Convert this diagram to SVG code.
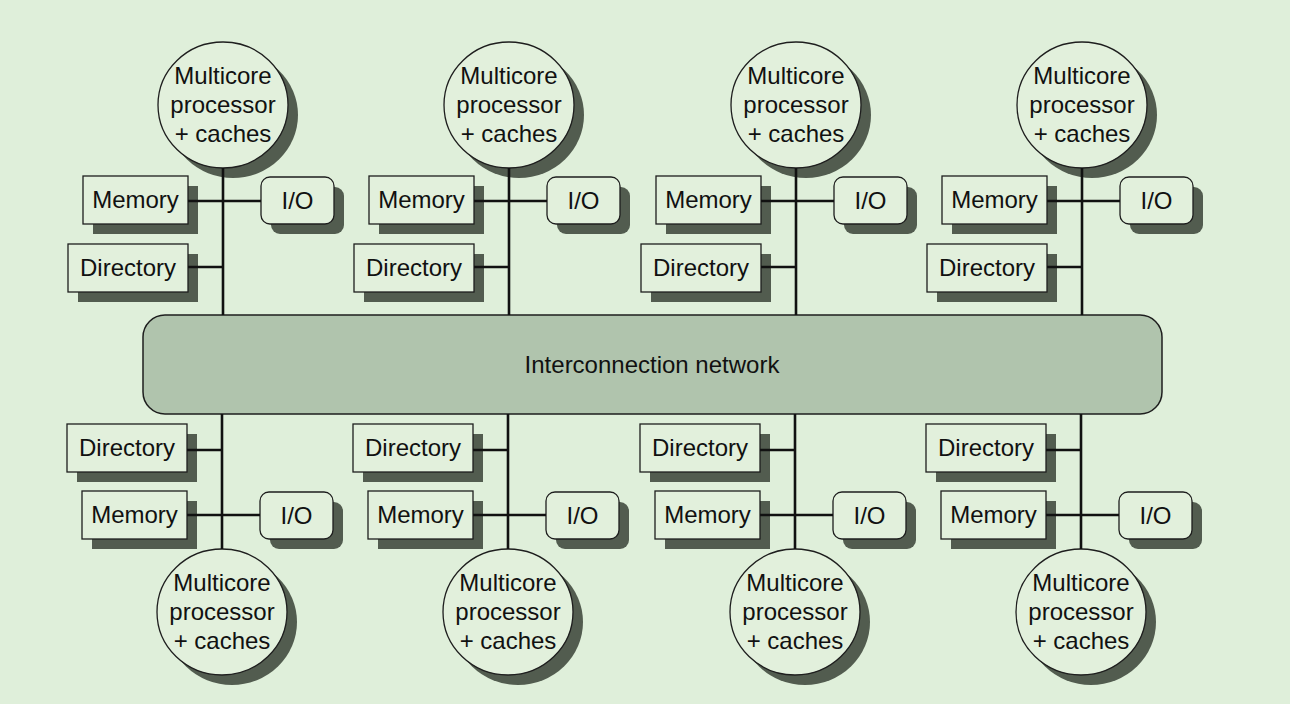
<svg xmlns="http://www.w3.org/2000/svg" width="1290" height="704" viewBox="0 0 1290 704">
<defs>
<style>
.bg{fill:#dfefda}
.box{fill:#e2f0dc;stroke:#1e1e1e;stroke-width:1.3}
.sh{fill:#525c4f}
.net{fill:#b0c4ad;stroke:#1e1e1e;stroke-width:1.5}
.ln{stroke:#111;stroke-width:2.6;fill:none}
text{font-family:"Liberation Sans",Arial,sans-serif;font-size:24px;fill:#111;text-anchor:middle}
</style>
<g id="proc"><ellipse class="sh" cx="10" cy="10" rx="65" ry="63"/><ellipse class="box" cx="0" cy="0" rx="65" ry="63"/></g>
<g id="mem"><rect class="sh" x="10" y="10" width="105" height="48"/><rect class="box" x="0" y="0" width="105" height="48"/></g>
<g id="dir"><rect class="sh" x="10" y="10" width="120" height="48"/><rect class="box" x="0" y="0" width="120" height="48"/></g>
<g id="io"><rect class="sh" x="10" y="10" width="73" height="47" rx="9"/><rect class="box" x="0" y="0" width="73" height="47" rx="9"/></g>
</defs>
<rect class="bg" x="0" y="0" width="1290" height="704"/>

<g id="network"><rect class="net" x="143" y="315" width="1019" height="99" rx="22"/><text x="652" y="373">Interconnection network</text></g>

<!-- top row -->
<g id="proc-t1"><use href="#proc" x="223" y="105"/><text x="223" y="84">Multicore</text><text x="223" y="113">processor</text><text x="223" y="142">+ caches</text></g>
<g id="mem-t1"><use href="#mem" x="83" y="176"/><text x="135.5" y="208">Memory</text></g>
<g id="dir-t1"><use href="#dir" x="68" y="244"/><text x="128" y="276">Directory</text></g>
<g id="io-t1"><use href="#io" x="261" y="177"/><text x="297.5" y="209">I/O</text></g>

<g id="proc-t2"><use href="#proc" x="509" y="105"/><text x="509" y="84">Multicore</text><text x="509" y="113">processor</text><text x="509" y="142">+ caches</text></g>
<g id="mem-t2"><use href="#mem" x="369" y="176"/><text x="421.5" y="208">Memory</text></g>
<g id="dir-t2"><use href="#dir" x="354" y="244"/><text x="414" y="276">Directory</text></g>
<g id="io-t2"><use href="#io" x="547" y="177"/><text x="583.5" y="209">I/O</text></g>

<g id="proc-t3"><use href="#proc" x="796" y="105"/><text x="796" y="84">Multicore</text><text x="796" y="113">processor</text><text x="796" y="142">+ caches</text></g>
<g id="mem-t3"><use href="#mem" x="656" y="176"/><text x="708.5" y="208">Memory</text></g>
<g id="dir-t3"><use href="#dir" x="641" y="244"/><text x="701" y="276">Directory</text></g>
<g id="io-t3"><use href="#io" x="834" y="177"/><text x="870.5" y="209">I/O</text></g>

<g id="proc-t4"><use href="#proc" x="1082" y="105"/><text x="1082" y="84">Multicore</text><text x="1082" y="113">processor</text><text x="1082" y="142">+ caches</text></g>
<g id="mem-t4"><use href="#mem" x="942" y="176"/><text x="994.5" y="208">Memory</text></g>
<g id="dir-t4"><use href="#dir" x="927" y="244"/><text x="987" y="276">Directory</text></g>
<g id="io-t4"><use href="#io" x="1120" y="177"/><text x="1156.5" y="209">I/O</text></g>

<!-- bottom row -->
<g id="proc-b1"><use href="#proc" x="222" y="612"/><text x="222" y="591">Multicore</text><text x="222" y="620">processor</text><text x="222" y="649">+ caches</text></g>
<g id="mem-b1"><use href="#mem" x="82" y="491"/><text x="134.5" y="523">Memory</text></g>
<g id="dir-b1"><use href="#dir" x="67" y="424"/><text x="127" y="456">Directory</text></g>
<g id="io-b1"><use href="#io" x="260" y="492"/><text x="296.5" y="524">I/O</text></g>

<g id="proc-b2"><use href="#proc" x="508" y="612"/><text x="508" y="591">Multicore</text><text x="508" y="620">processor</text><text x="508" y="649">+ caches</text></g>
<g id="mem-b2"><use href="#mem" x="368" y="491"/><text x="420.5" y="523">Memory</text></g>
<g id="dir-b2"><use href="#dir" x="353" y="424"/><text x="413" y="456">Directory</text></g>
<g id="io-b2"><use href="#io" x="546" y="492"/><text x="582.5" y="524">I/O</text></g>

<g id="proc-b3"><use href="#proc" x="795" y="612"/><text x="795" y="591">Multicore</text><text x="795" y="620">processor</text><text x="795" y="649">+ caches</text></g>
<g id="mem-b3"><use href="#mem" x="655" y="491"/><text x="707.5" y="523">Memory</text></g>
<g id="dir-b3"><use href="#dir" x="640" y="424"/><text x="700" y="456">Directory</text></g>
<g id="io-b3"><use href="#io" x="833" y="492"/><text x="869.5" y="524">I/O</text></g>

<g id="proc-b4"><use href="#proc" x="1081" y="612"/><text x="1081" y="591">Multicore</text><text x="1081" y="620">processor</text><text x="1081" y="649">+ caches</text></g>
<g id="mem-b4"><use href="#mem" x="941" y="491"/><text x="993.5" y="523">Memory</text></g>
<g id="dir-b4"><use href="#dir" x="926" y="424"/><text x="986" y="456">Directory</text></g>
<g id="io-b4"><use href="#io" x="1119" y="492"/><text x="1155.5" y="524">I/O</text></g>

<g id="connectors" class="ln">
<path d="M223 168V315M188 201H261M188 267H223"/>
<path d="M509 168V315M474 201H547M474 267H509"/>
<path d="M796 168V315M761 201H834M761 267H796"/>
<path d="M1082 168V315M1047 201H1120M1047 267H1082"/>
<path d="M222 414V549M187 515H260M187 450H222"/>
<path d="M508 414V549M473 515H546M473 450H508"/>
<path d="M795 414V549M760 515H833M760 450H795"/>
<path d="M1081 414V549M1046 515H1119M1046 450H1081"/>
</g>
</svg>
